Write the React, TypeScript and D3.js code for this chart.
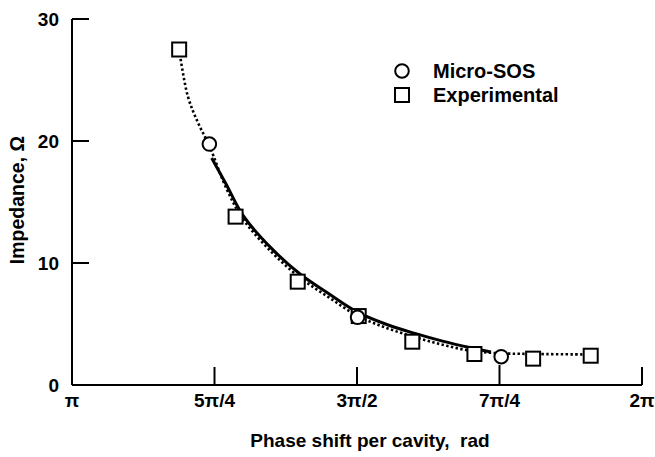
import React from "react";
import * as d3 from "d3";

// x values are in units of π (phase shift / π)
const xTickValues = [1, 1.25, 1.5, 1.75, 2];
const xTickLabels = ["π", "5π/4", "3π/2", "7π/4", "2π"];
const yTickValues = [0, 10, 20, 30];

const experimentalX = [1.188, 1.287, 1.396, 1.503, 1.597, 1.706, 1.809, 1.910];
const experimentalY = [27.5, 13.8, 8.47, 5.65, 3.55, 2.54, 2.16, 2.4];

const microSosX = [1.241, 1.501, 1.753];
const microSosY = [19.75, 5.55, 2.32];

const solidX = [1.245, 1.27, 1.30, 1.35, 1.40, 1.45, 1.50, 1.55, 1.60, 1.65, 1.70, 1.735];
const solidY = [18.6, 16.5, 13.9, 11.2, 9.1, 7.5, 6.0, 5.0, 4.25, 3.6, 3.05, 2.7];

const dottedX = [1.188, 1.203, 1.221, 1.241, 1.27, 1.30, 1.35, 1.40, 1.45, 1.50, 1.55, 1.60, 1.65, 1.70, 1.75, 1.80, 1.91];
const dottedY = [27.5, 23.7, 21.5, 19.6, 16.2, 13.6, 10.9, 8.8, 7.2, 5.7, 4.7, 3.95, 3.3, 2.8, 2.6, 2.55, 2.5];

const FONT = "'Liberation Sans', Arial, Helvetica, sans-serif";

export default function App() {
  const W = 655, H = 457;
  const x = d3.scaleLinear().domain([1, 2]).range([72, 642]);
  const y = d3.scaleLinear().domain([0, 30]).range([385, 19]);

  const line = d3
    .line<[number, number]>()
    .x((d) => x(d[0]))
    .y((d) => y(d[1]))
    .curve(d3.curveCatmullRom.alpha(0.5));

  const solidPts = solidX.map((v, i) => [v, solidY[i]] as [number, number]);
  const dottedPts = dottedX.map((v, i) => [v, dottedY[i]] as [number, number]);

  const sq = 14;
  const r = 6.8;

  return (
    <svg
      width={W}
      height={H}
      style={{ position: "absolute", left: 0, top: 0, background: "#fff" }}
      fontFamily={FONT}
      fontWeight="bold"
    >
      <rect x={0} y={0} width={W} height={H} fill="#fff" />
      {/* axes */}
      <line x1={x(1)} x2={x(1)} y1={y(0)} y2={y(30)} stroke="#000" strokeWidth={2} />
      <line x1={x(1)} x2={x(2)} y1={y(0)} y2={y(0)} stroke="#000" strokeWidth={2} />
      {yTickValues.map((t) => (
        <g key={"y" + t}>
          {t > 0 && (
            <line x1={x(1)} x2={x(1) + 17} y1={y(t)} y2={y(t)} stroke="#000" strokeWidth={2} />
          )}
          <text x={59} y={y(t) + 6.5} textAnchor="end" fontSize={19}>
            {t}
          </text>
        </g>
      ))}
      {xTickValues.map((t, i) => (
        <g key={"x" + t}>
          {i > 0 && (
            <line x1={x(t)} x2={x(t)} y1={y(0)} y2={y(0) - (i === 3 ? 20 : 18)} stroke="#000" strokeWidth={2} />
          )}
          <text x={x(t)} y={407} textAnchor="middle" fontSize={19}>
            {xTickLabels[i]}
          </text>
        </g>
      ))}
      {/* axis titles */}
      <text x={370} y={447} textAnchor="middle" fontSize={19}>
        Phase shift per cavity,{"\u00a0\u00a0"}rad
      </text>
      <text
        transform={`translate(24, 200) rotate(-90)`}
        textAnchor="middle"
        fontSize={19.5}
      >
        Impedance, Ω
      </text>

      {/* curves */}
      <path
        d={line(dottedPts) || ""}
        fill="none"
        stroke="#000"
        strokeWidth={2.6}
        strokeDasharray="2.4,2.4"
      />
      <path d={line(solidPts) || ""} fill="none" stroke="#000" strokeWidth={3} />

      {/* markers */}
      {experimentalX.map((v, i) => (
        <rect
          key={"e" + i}
          x={x(v) - sq / 2}
          y={y(experimentalY[i]) - sq / 2}
          width={sq}
          height={sq}
          fill="#fff"
          stroke="#000"
          strokeWidth={2}
        />
      ))}
      {microSosX.map((v, i) => (
        <circle key={"m" + i} cx={x(v)} cy={y(microSosY[i])} r={r} fill="#fff" stroke="#000" strokeWidth={2} />
      ))}

      {/* legend */}
      <circle cx={402} cy={71} r={r} fill="#fff" stroke="#000" strokeWidth={2} />
      <text x={433} y={78} fontSize={20}>Micro-SOS</text>
      <rect x={402 - sq / 2} y={95 - sq / 2} width={sq} height={sq} fill="#fff" stroke="#000" strokeWidth={2} />
      <text x={433} y={102} fontSize={20}>Experimental</text>
    </svg>
  );
}
